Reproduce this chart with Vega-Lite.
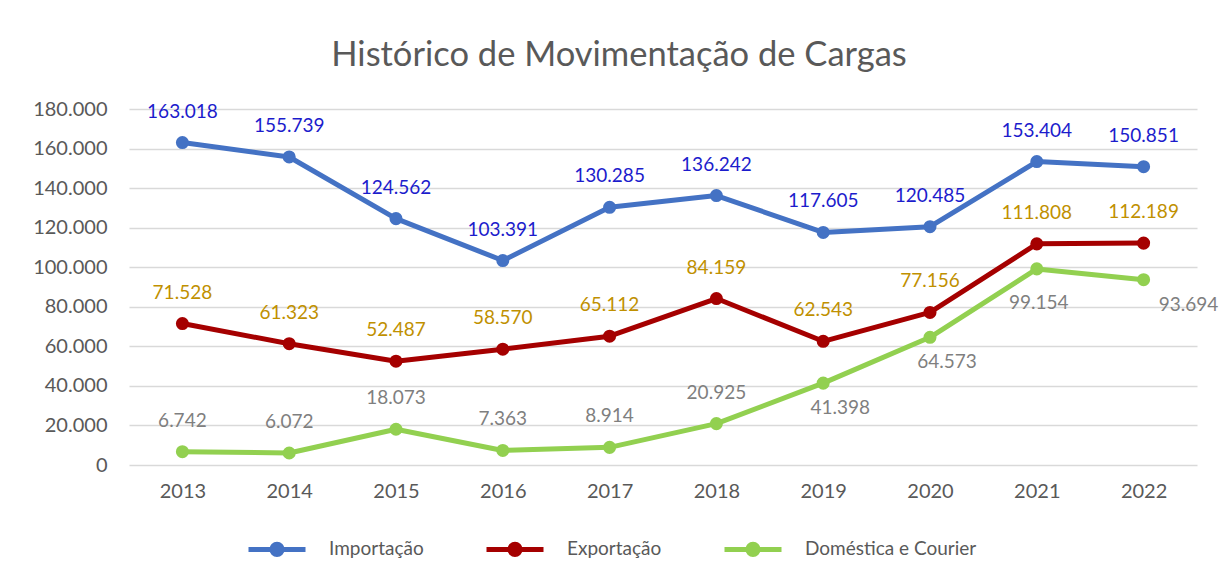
{
  "$schema": "https://vega.github.io/schema/vega-lite/v6.json",
  "width": 1068,
  "height": 356,
  "autosize": {"type": "none"},
  "padding": {"left": 129, "top": 109, "right": 23, "bottom": 113},
  "background": "white",
  "title": {"text": "Histórico de Movimentação de  Cargas", "fontSize": 34.5, "font": "Lato", "fontWeight": "normal", "color": "#595959", "dx": -44, "offset": 26, "anchor": "middle"},
  "config": {
    "locale": {"number": {"decimal": ",", "thousands": ".", "grouping": [3], "currency": ["R$", ""]}},
    "view": {"stroke": null},
    "font": "Lato"
  },
  "data": {"values": [
    {"ano": 2013, "serie": "Importação", "valor": 163018},
    {"ano": 2014, "serie": "Importação", "valor": 155739},
    {"ano": 2015, "serie": "Importação", "valor": 124562},
    {"ano": 2016, "serie": "Importação", "valor": 103391},
    {"ano": 2017, "serie": "Importação", "valor": 130285},
    {"ano": 2018, "serie": "Importação", "valor": 136242},
    {"ano": 2019, "serie": "Importação", "valor": 117605},
    {"ano": 2020, "serie": "Importação", "valor": 120485},
    {"ano": 2021, "serie": "Importação", "valor": 153404},
    {"ano": 2022, "serie": "Importação", "valor": 150851},
    {"ano": 2013, "serie": "Exportação", "valor": 71528},
    {"ano": 2014, "serie": "Exportação", "valor": 61323},
    {"ano": 2015, "serie": "Exportação", "valor": 52487},
    {"ano": 2016, "serie": "Exportação", "valor": 58570},
    {"ano": 2017, "serie": "Exportação", "valor": 65112},
    {"ano": 2018, "serie": "Exportação", "valor": 84159},
    {"ano": 2019, "serie": "Exportação", "valor": 62543},
    {"ano": 2020, "serie": "Exportação", "valor": 77156},
    {"ano": 2021, "serie": "Exportação", "valor": 111808},
    {"ano": 2022, "serie": "Exportação", "valor": 112189},
    {"ano": 2013, "serie": "Doméstica e Courier", "valor": 6742},
    {"ano": 2014, "serie": "Doméstica e Courier", "valor": 6072},
    {"ano": 2015, "serie": "Doméstica e Courier", "valor": 18073},
    {"ano": 2016, "serie": "Doméstica e Courier", "valor": 7363},
    {"ano": 2017, "serie": "Doméstica e Courier", "valor": 8914},
    {"ano": 2018, "serie": "Doméstica e Courier", "valor": 20925},
    {"ano": 2019, "serie": "Doméstica e Courier", "valor": 41398},
    {"ano": 2020, "serie": "Doméstica e Courier", "valor": 64573},
    {"ano": 2021, "serie": "Doméstica e Courier", "valor": 99154},
    {"ano": 2022, "serie": "Doméstica e Courier", "valor": 93694}
  ]},
  "encoding": {
    "x": {
      "field": "ano", "type": "ordinal",
      "scale": {"type": "point", "padding": 0.5},
      "axis": {"title": null, "labelAngle": 0, "labelFontSize": 20, "labelColor": "#595959", "labelPadding": 16, "ticks": false, "domain": false, "grid": false}
    },
    "y": {
      "field": "valor", "type": "quantitative",
      "scale": {"domain": [0, 180000], "nice": false},
      "axis": {"title": null, "values": [0, 20000, 40000, 60000, 80000, 100000, 120000, 140000, 160000, 180000], "format": ",d", "labelFontSize": 20, "labelColor": "#595959", "labelPadding": 22, "ticks": false, "domain": false, "grid": true, "gridColor": "#D9D9D9", "gridWidth": 1.5}
    }
  },
  "layer": [
    {
      "mark": {"type": "line", "strokeWidth": 5, "strokeCap": "round", "strokeJoin": "round", "point": {"size": 170, "filled": true, "opacity": 1}},
      "encoding": {
        "color": {
          "field": "serie", "type": "nominal",
          "scale": {"domain": ["Importação", "Exportação", "Doméstica e Courier"], "range": ["#4472C4", "#A50000", "#92D050"]},
          "legend": {
            "title": null, "orient": "none", "direction": "horizontal", "legendX": 117, "legendY": 409, "padding": 0,
            "symbolType": "M-1,0L1,0M-0.18,0A0.18,0.18,0,1,1,0.18,0A0.18,0.18,0,1,1,-0.18,0Z",
            "symbolSize": 3249, "symbolStrokeWidth": 5,
            "labelFontSize": 19, "labelColor": "#595959", "labelOffset": 21, "labelLimit": 400, "columnPadding": 52
          }
        }
      }
    },
    {
      "transform": [{"filter": "datum.serie != 'Doméstica e Courier' || datum.ano <= 2018"}],
      "mark": {"type": "text", "dy": -31, "fontSize": 19, "baseline": "middle"},
      "encoding": {
        "text": {"field": "valor", "type": "quantitative", "format": ",d"},
        "color": {
          "field": "serie", "type": "nominal",
          "scale": {"domain": ["Importação", "Exportação", "Doméstica e Courier"], "range": ["#1C1CCC", "#C09000", "#7F7F7F"]},
          "legend": null
        }
      }
    },
    {
      "transform": [{"filter": "datum.serie == 'Doméstica e Courier' && (datum.ano == 2019 || datum.ano == 2020)"}],
      "mark": {"type": "text", "dx": 17, "dy": 25, "fontSize": 19, "baseline": "middle", "color": "#7F7F7F"},
      "encoding": {"text": {"field": "valor", "type": "quantitative", "format": ",d"}}
    },
    {
      "transform": [{"filter": "datum.serie == 'Doméstica e Courier' && datum.ano == 2021"}],
      "mark": {"type": "text", "dx": 2, "dy": 34, "fontSize": 19, "baseline": "middle", "color": "#7F7F7F"},
      "encoding": {"text": {"field": "valor", "type": "quantitative", "format": ",d"}}
    },
    {
      "transform": [{"filter": "datum.serie == 'Doméstica e Courier' && datum.ano == 2022"}],
      "mark": {"type": "text", "dx": 45, "dy": 25, "fontSize": 19, "baseline": "middle", "color": "#7F7F7F"},
      "encoding": {"text": {"field": "valor", "type": "quantitative", "format": ",d"}}
    }
  ],
  "resolve": {"scale": {"color": "independent"}}
}
